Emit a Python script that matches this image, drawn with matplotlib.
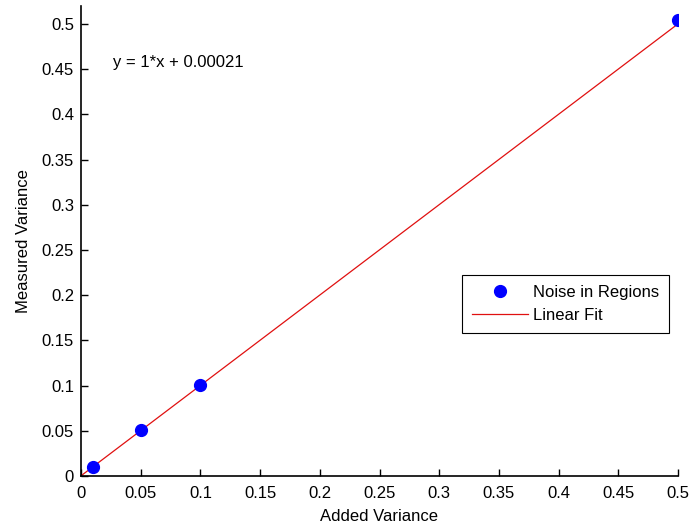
import numpy as np
import matplotlib
matplotlib.use("Agg")
import matplotlib.pyplot as plt

plt.rcParams['font.family'] = ['Liberation Sans', 'DejaVu Sans']

# Measured noise variance in image regions versus the variance that was added
added_variance = [0.01, 0.05, 0.1, 0.5]
measured_variance = [0.0105, 0.051, 0.101, 0.504]

# Linear fit coefficients
slope = 1.0
intercept = 0.00021
fit_x = [0.0, 0.5]

x_ticks = [0, 0.05, 0.1, 0.15, 0.2, 0.25, 0.3, 0.35, 0.4, 0.45, 0.5]
y_ticks = [0, 0.05, 0.1, 0.15, 0.2, 0.25, 0.3, 0.35, 0.4, 0.45, 0.5]

FS = 12

fig = plt.figure(figsize=(6.94, 5.27), dpi=100)
ax = fig.add_axes([81 / 694, 51 / 527, 597 / 694, 470 / 527])

fit_y = [slope * x + intercept for x in fit_x]
ax.plot(fit_x, fit_y, color='#e01010', lw=0.9, zorder=2, label='Linear Fit')
ax.plot(added_variance, measured_variance, 'o', color='blue', ms=8.5,
        zorder=3, label='Noise in Regions')

ax.set_xlim(0, 0.5)
ax.set_ylim(0, 0.52)
ax.set_xticks(x_ticks)
ax.set_yticks(y_ticks)
ax.set_xticklabels([f"{t:g}" for t in x_ticks])
ax.set_yticklabels([f"{t:g}" for t in y_ticks])
ax.tick_params(direction='in', length=5, width=1, labelsize=FS)
ax.tick_params(axis='x', pad=7)
ax.tick_params(axis='y', pad=5)
for side in ('top', 'right'):
    ax.spines[side].set_visible(False)
for side in ('left', 'bottom'):
    ax.spines[side].set_linewidth(1.2)

ax.set_xlabel('Added Variance', fontsize=FS, labelpad=6)
ax.set_ylabel('Measured Variance', fontsize=FS, labelpad=8)

ax.text(0.0268, 0.457, 'y = 1*x + 0.00021', fontsize=FS, va='center', ha='left')

handles, labels = ax.get_legend_handles_labels()
leg = ax.legend(handles[::-1], labels[::-1], loc='upper left',
                bbox_to_anchor=((462 - 81) / 597, (476 - 275) / 470),
                fancybox=False, edgecolor='black', framealpha=1,
                fontsize=FS, handlelength=3.35, handletextpad=0.3,
                borderaxespad=0, borderpad=0.6, labelspacing=0.45)
leg.get_frame().set_linewidth(0.8)

fig.savefig('out.png', dpi=100)
